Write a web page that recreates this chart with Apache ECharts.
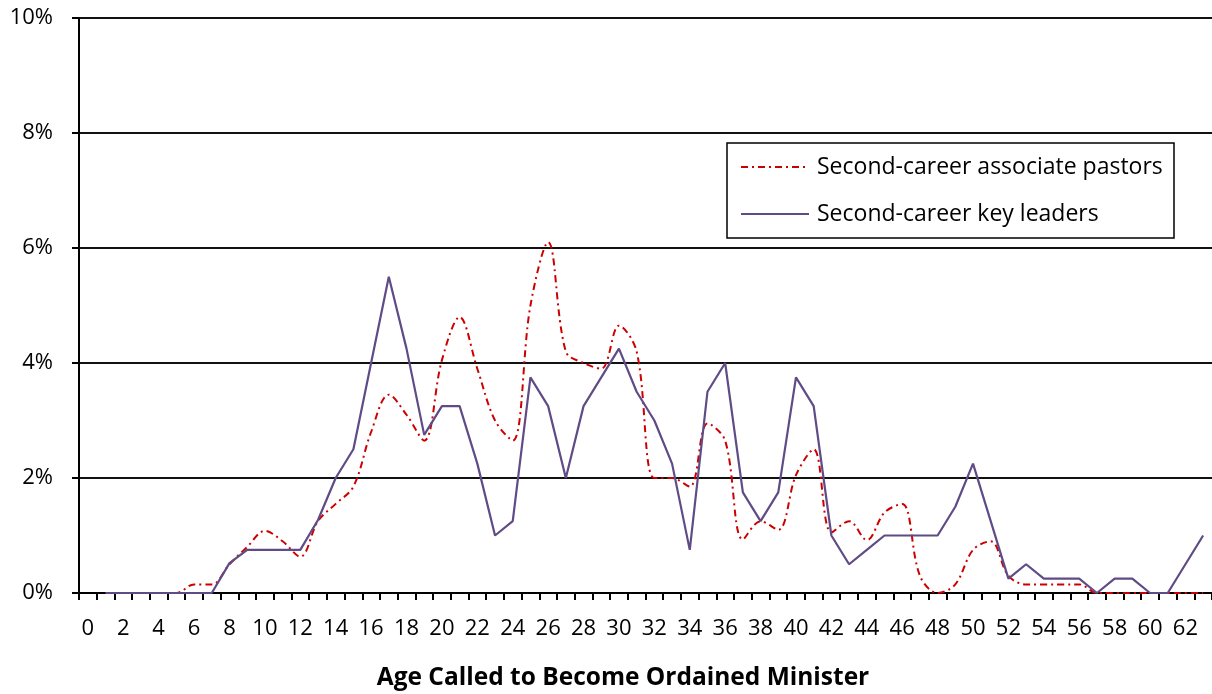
<!DOCTYPE html>
<html>
<head>
<meta charset="utf-8">
<script src="https://cdn.jsdelivr.net/npm/echarts@6/dist/echarts.min.js"></script>
<style>
  html, body { margin: 0; padding: 0; background: #fff; }
  #chart { width: 1212px; height: 694px; }
</style>
</head>
<body>
<div id="chart"></div>
<script>
// Ages 0–63 at which respondents felt called to ordained ministry
const ages = Array.from({ length: 64 }, (_, i) => String(i));

// Share of respondents (%) per age; age 0 has no entry
const associatePastors = [
  null, 0, 0, 0, 0, 0, 0.15, 0.15, 0.5, 0.8,
  1.08, 0.9, 0.63, 1.25, 1.55, 1.85, 2.8, 3.45, 3.1, 2.65,
  4.05, 4.8, 3.9, 3.0, 2.65, 5.0, 6.1, 4.2, 4.0, 3.9,
  4.65, 4.2, 2.0, 2.0, 1.85, 2.95, 2.65, 0.93, 1.25, 1.1,
  2.05, 2.5, 1.05, 1.25, 0.92, 1.4, 1.55, 0.3, 0, 0.15,
  0.75, 0.9, 0.3, 0.15, 0.15, 0.15, 0.15, 0, 0, 0,
  0, 0, 0, 0
];

const keyLeaders = [
  null, 0, 0, 0, 0, 0, 0, 0, 0.52, 0.75,
  0.75, 0.75, 0.75, 1.27, 2.0, 2.5, 4.0, 5.5, 4.25, 2.75,
  3.25, 3.25, 2.25, 1.0, 1.25, 3.75, 3.25, 2.0, 3.25, 3.75,
  4.25, 3.5, 3.0, 2.25, 0.75, 3.5, 4.0, 1.75, 1.25, 1.75,
  3.75, 3.25, 1.0, 0.5, 0.75, 1.0, 1.0, 1.0, 1.0, 1.5,
  2.25, 1.25, 0.25, 0.5, 0.25, 0.25, 0.25, 0, 0.25, 0.25,
  0, 0, 0.5, 1.0
];

const seriesNames = ['Second-career associate pastors', 'Second-career key leaders'];
const axisTitle = 'Age Called to Become Ordained Minister';

const FONT = '"Open Sans"';
const chart = echarts.init(document.getElementById('chart'), null, { renderer: 'canvas' });

chart.setOption({
  animation: false,
  backgroundColor: '#ffffff',
  textStyle: { fontFamily: FONT },
  grid: { left: 79, top: 18, width: 1138, height: 575, containLabel: false },
  xAxis: {
    type: 'category',
    data: ages,
    boundaryGap: true,
    axisLine: { lineStyle: { color: '#000', width: 2 } },
    axisTick: { show: true, interval: 0, length: 7, lineStyle: { color: '#000', width: 2 } },
    axisLabel: { interval: 1, color: '#000', fontSize: 22, fontFamily: FONT, margin: 25 },
    splitLine: { show: false }
  },
  yAxis: {
    type: 'value',
    min: 0,
    max: 10,
    interval: 2,
    axisLine: { show: true, lineStyle: { color: '#000', width: 2 } },
    axisTick: { show: true, length: 7, lineStyle: { color: '#000', width: 2 } },
    axisLabel: { formatter: '{value}%', color: '#000', fontSize: 22, fontFamily: FONT, margin: 26 },
    splitLine: { show: true, lineStyle: { color: '#111', width: 2 } }
  },
  legend: {
    orient: 'vertical',
    left: 740,
    top: 155,
    padding: 0,
    itemGap: 23,
    itemWidth: 68,
    itemHeight: 24,
    z: 10,
    itemStyle: { opacity: 0 },
    textStyle: { fontSize: 23, lineHeight: 24, fontFamily: FONT, color: '#000', padding: [0, 0, 0, 3] },
    data: seriesNames
  },
  graphic: [
    {
      type: 'rect',
      shape: { x: 727, y: 143, width: 447, height: 95 },
      style: { fill: '#fff', stroke: '#000', lineWidth: 1.5 },
      z: 1,
      silent: true
    },
    {
      type: 'text',
      x: 623,
      y: 678,
      style: {
        text: axisTitle,
        font: 'bold 24.5px ' + FONT,
        fill: '#000',
        textAlign: 'center',
        textVerticalAlign: 'middle'
      }
    }
  ],
  series: [
    {
      name: seriesNames[0],
      type: 'line',
      data: associatePastors,
      smooth: 0.35,
      symbol: 'none',
      lineStyle: { color: '#cc0000', width: 2, type: [7, 4, 2, 4] },
      itemStyle: { color: '#cc0000' },
      z: 3
    },
    {
      name: seriesNames[1],
      type: 'line',
      data: keyLeaders,
      smooth: false,
      symbol: 'none',
      lineStyle: { color: '#5f4b85', width: 2.2 },
      itemStyle: { color: '#5f4b85' },
      z: 4
    }
  ]
});
</script>
</body>
</html>
